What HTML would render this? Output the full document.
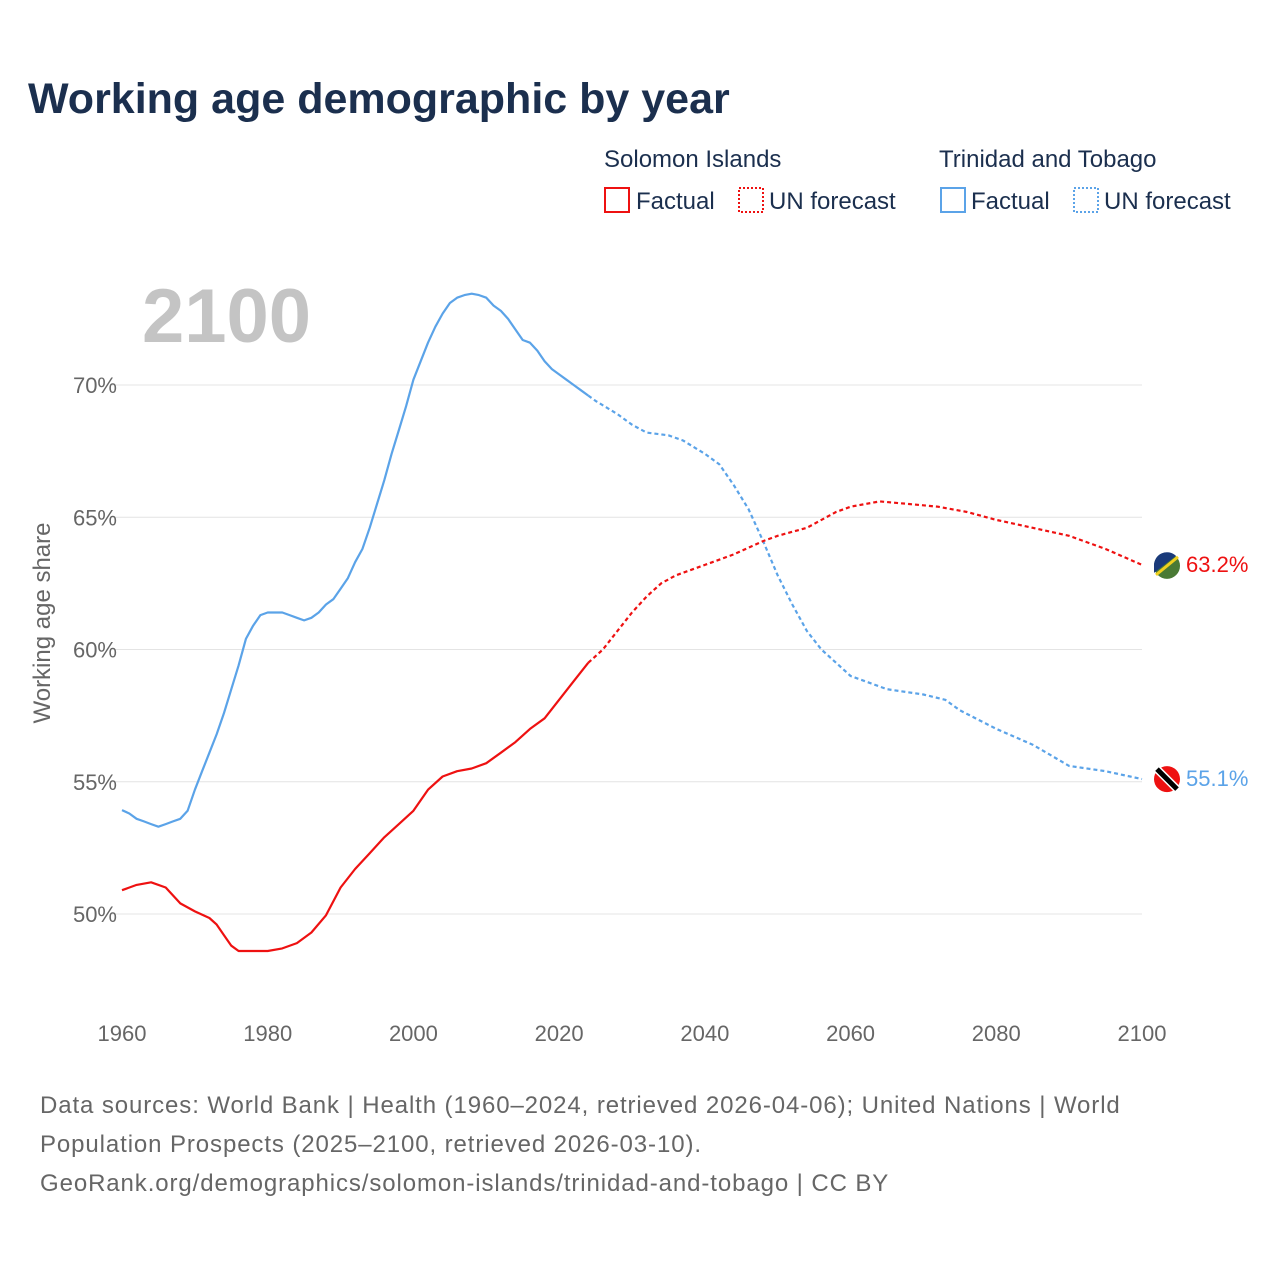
<!DOCTYPE html>
<html><head><meta charset="utf-8">
<style>
body{margin:0;background:#fff;font-family:"Liberation Sans",sans-serif;}
#wrap{position:relative;width:1280px;height:1280px;overflow:hidden;}
svg text{font-family:"Liberation Sans",sans-serif;}
</style></head>
<body>
<div id="wrap">
<svg id="chart" width="1280" height="1280" xmlns="http://www.w3.org/2000/svg">
<text x="28" y="113" font-size="43" font-weight="bold" fill="#1b2f4e">Working age demographic by year</text>
<g>
<text x="604" y="167" font-size="24" fill="#1b2f4e">Solomon Islands</text>
<text x="939" y="167" font-size="24" fill="#1b2f4e">Trinidad and Tobago</text>
<rect x="605" y="188" width="24" height="24" fill="none" stroke="#ee1111" stroke-width="2"/>
<text x="636" y="209" font-size="24" fill="#1b2f4e">Factual</text>
<rect x="739" y="188" width="24" height="24" fill="none" stroke="#ee1111" stroke-width="2" stroke-dasharray="2,2"/>
<text x="769" y="209" font-size="24" fill="#1b2f4e">UN forecast</text>
<rect x="941" y="188" width="24" height="24" fill="none" stroke="#5ba3e8" stroke-width="2"/>
<text x="971" y="209" font-size="24" fill="#1b2f4e">Factual</text>
<rect x="1074" y="188" width="24" height="24" fill="none" stroke="#5ba3e8" stroke-width="2" stroke-dasharray="2,2"/>
<text x="1104" y="209" font-size="24" fill="#1b2f4e">UN forecast</text>
</g>
<text x="142" y="342" font-size="76" font-weight="bold" fill="#c4c4c4">2100</text>
<text transform="translate(50,623) rotate(-90)" text-anchor="middle" font-size="24" fill="#666">Working age share</text>
<g id="grid"></g><g id="xt"></g><g id="series"></g><g id="ends"></g>
<g font-size="24" fill="#666" letter-spacing="0.9">
<text x="40" y="1113">Data sources: World Bank | Health (1960–2024, retrieved 2026-04-06); United Nations | World</text>
<text x="40" y="1152">Population Prospects (2025–2100, retrieved 2026-03-10).</text>
<text x="40" y="1191">GeoRank.org/demographics/solomon-islands/trinidad-and-tobago | CC BY</text>
</g>
</svg>
</div>
<script>
const yTicks=[50,55,60,65,70];
const xTicks=[1960,1980,2000,2020,2040,2060,2080,2100];
const ttYears=[1960,1961,1962,1963,1964,1965,1966,1967,1968,1969,1970,1971,1972,1973,1974,1975,1976,1977,1978,1979,1980,1981,1982,1983,1984,1985,1986,1987,1988,1989,1990,1991,1992,1993,1994,1995,1996,1997,1998,1999,2000,2001,2002,2003,2004,2005,2006,2007,2008,2009,2010,2011,2012,2013,2014,2015,2016,2017,2018,2019,2020,2021,2022,2023,2024];
const ttVals=[53.93,53.8,53.6,53.5,53.4,53.3,53.4,53.5,53.6,53.9,54.7,55.4,56.1,56.8,57.6,58.5,59.4,60.4,60.9,61.3,61.4,61.4,61.4,61.3,61.2,61.1,61.2,61.4,61.7,61.9,62.3,62.7,63.3,63.8,64.6,65.5,66.4,67.4,68.3,69.2,70.2,70.9,71.6,72.2,72.7,73.1,73.3,73.4,73.45,73.4,73.3,73.0,72.8,72.5,72.1,71.7,71.6,71.3,70.9,70.6,70.4,70.2,70.0,69.8,69.6];
const ttFYears=[2024,2025,2028,2030,2032,2035,2037,2040,2042,2044,2046,2048,2050,2052,2054,2056,2058,2060,2065,2070,2073,2075,2080,2085,2090,2095,2100];
const ttFVals=[69.6,69.4,68.9,68.5,68.2,68.1,67.9,67.4,67.0,66.2,65.3,64.1,62.8,61.7,60.7,60.0,59.5,59.0,58.5,58.3,58.1,57.7,57.0,56.4,55.6,55.4,55.1];
const siYears=[1960,1962,1964,1966,1968,1970,1972,1973,1974,1975,1976,1980,1982,1984,1986,1988,1990,1992,1994,1996,1998,2000,2002,2004,2006,2008,2010,2012,2014,2016,2018,2020,2022,2024];
const siVals=[50.9,51.1,51.2,51.0,50.4,50.1,49.85,49.6,49.2,48.8,48.6,48.6,48.7,48.9,49.3,49.95,51.0,51.7,52.3,52.9,53.4,53.9,54.7,55.2,55.4,55.5,55.7,56.1,56.5,57.0,57.4,58.1,58.8,59.5];
const siFYears=[2024,2026,2028,2030,2032,2034,2036,2040,2044,2048,2050,2054,2058,2060,2064,2068,2072,2076,2080,2085,2090,2095,2100];
const siFVals=[59.5,60.0,60.7,61.4,62.0,62.5,62.8,63.2,63.6,64.1,64.3,64.6,65.2,65.4,65.6,65.5,65.4,65.2,64.9,64.6,64.3,63.8,63.2];
const X=y=>122+(y-1960)*(1142-122)/140;
const Y=v=>914-(v-50)*(914-385)/20;
const NS="http://www.w3.org/2000/svg";
function mk(t,a,p){const e=document.createElementNS(NS,t);for(const k in a)e.setAttribute(k,a[k]);p.appendChild(e);return e;}
const grid=document.getElementById('grid');
yTicks.forEach(v=>{
 const l=mk('line',{x1:112,x2:1142,y1:Y(v),y2:Y(v),stroke:'#e4e4e4','stroke-width':1},grid);
 
 
 const t=mk('text',{x:117,y:Y(v)+8,'text-anchor':'end','font-size':22,fill:'#666'},grid);
 t.textContent=v+'%';
 
 
});
const xt=document.getElementById('xt');
xTicks.forEach(v=>{
 const t=mk('text',{x:X(v),y:1041,'text-anchor':'middle','font-size':22,fill:'#666'},xt);
 t.textContent=v;
 
 
});
const S=document.getElementById('series');
function line(xs,vs,col,dash,name){
 const d=xs.map((y,i)=>(i?'L':'M')+X(y).toFixed(1)+','+Y(vs[i]).toFixed(1)).join(' ');
 const p=mk('path',{d:d,fill:'none',stroke:col,'stroke-width':2.2,'stroke-linejoin':'round'},S);
 if(dash)p.setAttribute('stroke-dasharray','4,3');
 
 
}
line(ttYears,ttVals,'#5ba3e8',false,'trinidad-factual-line');
line(ttFYears,ttFVals,'#5ba3e8',true,'trinidad-forecast-line');
line(siYears,siVals,'#ee1111',false,'solomon-factual-line');
line(siFYears,siFVals,'#ee1111',true,'solomon-forecast-line');
const E=document.getElementById('ends');
const sv=siFVals[siFVals.length-1], tv=ttFVals[ttFVals.length-1];
const f1=mk('g',{},E);
mk('circle',{cx:1167,cy:Y(sv)+1,r:13,fill:'#4a7a35'},f1);
mk('path',{d:`M1154,${Y(sv)+1} A13,13 0 0 1 1176,${Y(sv)-9} L1154,${Y(sv)+8}Z`,fill:'#1a3a7a'},f1);
mk('line',{x1:1156,y1:Y(sv)+10,x2:1178,y2:Y(sv)-8,stroke:'#f0d020','stroke-width':3},f1);
const f2=mk('g',{},E);
mk('circle',{cx:1167,cy:Y(tv),r:13,fill:'#ee1111'},f2);
mk('line',{x1:1157,y1:Y(tv)-10,x2:1177,y2:Y(tv)+10,stroke:'#fff','stroke-width':8},f2);
mk('line',{x1:1157,y1:Y(tv)-10,x2:1177,y2:Y(tv)+10,stroke:'#000','stroke-width':5},f2);
const l1=mk('text',{x:1186,y:Y(sv)+7,'font-size':22,fill:'#ee1111'},E);l1.textContent=sv.toFixed(1)+'%';


const l2=mk('text',{x:1186,y:Y(tv)+7,'font-size':22,fill:'#5ba3e8'},E);l2.textContent=tv.toFixed(1)+'%';


</script>
</body></html>
